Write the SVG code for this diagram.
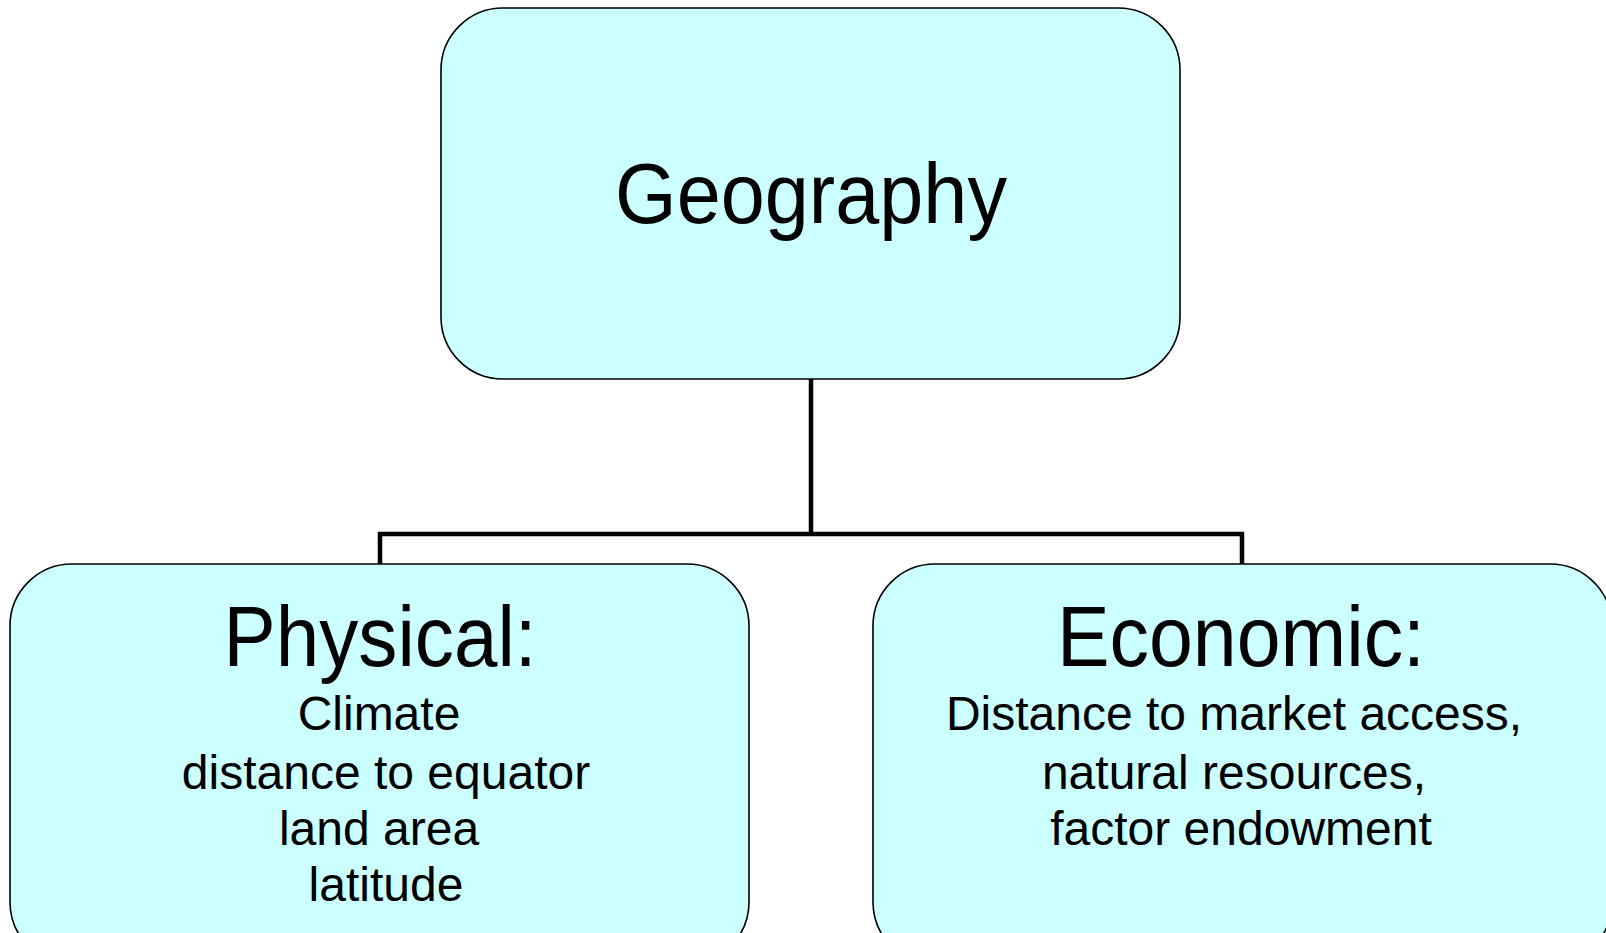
<svg xmlns="http://www.w3.org/2000/svg" width="1606" height="933" viewBox="0 0 1606 933">
<style>
.box{fill:#CCFFFF;stroke:#000;stroke-width:1.6}
.t{font-family:"Liberation Sans",Arial,sans-serif;fill:#000;text-anchor:middle}
.big{font-size:85px}
.sm{font-size:48px}
.conn{fill:none;stroke:#000;stroke-width:4.5}
</style>
<rect width="1606" height="933" fill="#fff"/>
<g id="connectors">
<path class="conn" d="M811 379 V534 M380 564 V534 H1242 V564"/>
</g>
<g id="geography">
<rect class="box" x="441" y="8" width="739" height="371" rx="62" ry="62"/>
<text class="t big" x="811" y="223" textLength="392" lengthAdjust="spacingAndGlyphs">Geography</text>
</g>
<g id="physical">
<rect class="box" x="10" y="564" width="739" height="400" rx="62" ry="62"/>
<text class="t big" x="380" y="666" textLength="313" lengthAdjust="spacingAndGlyphs">Physical:</text>
<text class="t sm" x="379" y="730">Climate</text>
<text class="t sm" x="386" y="789">distance to equator</text>
<text class="t sm" x="379" y="845">land area</text>
<text class="t sm" x="386" y="901">latitude</text>
</g>
<g id="economic">
<rect class="box" x="873" y="564" width="739" height="400" rx="62" ry="62"/>
<text class="t big" x="1241" y="666" textLength="368" lengthAdjust="spacingAndGlyphs">Economic:</text>
<text class="t sm" x="1234" y="730">Distance to market access,</text>
<text class="t sm" x="1234" y="789">natural resources,</text>
<text class="t sm" x="1241" y="845">factor endowment</text>
</g>
</svg>
